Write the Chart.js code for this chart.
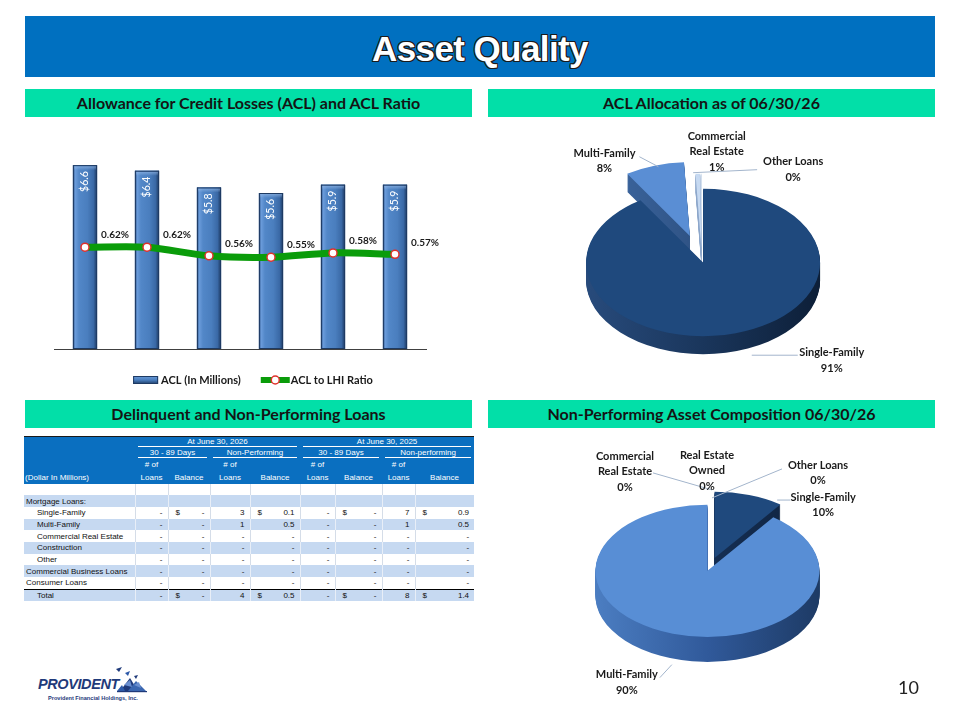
<!DOCTYPE html>
<html>
<head>
<meta charset="utf-8">
<script src="https://cdn.jsdelivr.net/npm/chart.js@4/dist/chart.umd.min.js"></script>
<style>
html,body{margin:0;padding:0;background:#fff;}
body{width:960px;height:720px;position:relative;overflow:hidden;font-family:Lato,'DejaVu Sans',sans-serif;}
.titlebar{position:absolute;left:25px;top:16px;width:910px;height:61px;background:#0070C0;}
.titlebar span{position:absolute;left:0;right:0;top:2px;text-align:center;font:bold 35px 'Liberation Sans',Arial,sans-serif;line-height:61px;color:#fff;letter-spacing:-0.6px;
 text-shadow:-1px -1px 0 #1b1b1b,1px -1px 0 #1b1b1b,-1px 1px 0 #1b1b1b,1px 1px 0 #1b1b1b,0 1px 0 #1b1b1b,0 -1px 0 #1b1b1b,1px 0 0 #1b1b1b,-1px 0 0 #1b1b1b;}
.hdr{position:absolute;height:28px;width:447px;background:#02DFA8;font:bold 16px Lato,sans-serif;line-height:28px;color:#141414;text-align:center;}
canvas{position:absolute;}
#tbl{position:absolute;left:24px;top:436px;width:450px;border-collapse:collapse;table-layout:fixed;font:8px 'Liberation Sans',Arial,sans-serif;color:#111;border-top:1px solid #1a1a1a;}
#tbl td{padding:0;white-space:nowrap;overflow:hidden;}
#tbl tr.h td{background:#0A6FC0;color:#fff;}
#tbl tr.b td{height:11.7px;line-height:11px;}
#tbl tr.b td.v{border-left:1px solid #D5DDE8;}
#tbl tr.alt td{background:#C6D9F1;}
#tbl tr.alt td.v{border-left:1px solid #E8EEF7;}
#tbl tr.tot td{border-top:1px solid #000;}
.ul{border-bottom:1px solid #fff;margin:0 3px;text-align:center;}
.r{text-align:right;padding-right:5px !important;}
.l{text-align:left;padding-left:7px !important;}
.c{text-align:center;}
.logo{position:absolute;left:38px;top:676px;font:italic bold 14.5px 'Liberation Sans',Arial,sans-serif;color:#1F3A7A;letter-spacing:-0.4px;}
.logosub{position:absolute;left:48px;top:695px;font:bold 5.6px 'Liberation Sans',Arial,sans-serif;color:#1F3A7A;}
.pnum{position:absolute;left:898px;top:676px;font:18px Lato,sans-serif;color:#222;}
</style>
</head>
<body>
<div class="titlebar"><span>Asset Quality</span></div>
<div class="hdr" style="left:25px;top:89px;">Allowance for Credit Losses (ACL) and ACL Ratio</div>
<div class="hdr" style="left:488px;top:89px;">ACL Allocation as of 06/30/26</div>
<div class="hdr" style="left:25px;top:400px;">Delinquent and Non-Performing Loans</div>
<div class="hdr" style="left:488px;top:400px;">Non-Performing Asset Composition 06/30/26</div>

<canvas id="bar" width="450" height="270" style="left:24px;top:125px;width:450px;height:270px;"></canvas>
<canvas id="pie1" width="448" height="275" style="left:487px;top:120px;width:448px;height:275px;"></canvas>
<canvas id="pie2" width="448" height="280" style="left:487px;top:430px;width:448px;height:280px;"></canvas>
<table id="tbl"></table>

<svg style="position:absolute;left:108px;top:661px" width="42" height="36" viewBox="0 0 42 36">
  <polygon points="8,8 14,6 11,11" fill="#1F3A7A"/>
  <polygon points="17,12 22,10 20,15" fill="#2E5AA8"/>
  <polygon points="26,15 30,14 28,18" fill="#1F3A7A"/>
  <polygon points="12,30 22,17 30,30" fill="#1F3A7A"/>
  <polygon points="20,30 28,20 38,30" fill="#3A66B0"/>
  <polygon points="16,24 22,19 24,26" fill="#6A8FD0"/>
  <polygon points="26,24 31,21 33,27" fill="#6A8FD0"/>
  <polygon points="9,30 14,24 17,30" fill="#2E5AA8"/>
  <rect x="9" y="30" width="30" height="1.2" fill="#1F3A7A"/>
</svg>
<div class="logo">PROVIDENT</div>
<div class="logosub">Provident Financial Holdings, Inc.</div>
<div class="pnum">10</div>

<script>
// ---------------- DATA ----------------
const quarters = ['03/31/2025','06/30/2025','09/30/2025','12/31/2025','03/31/2026','06/30/2026'];
const aclMillions = [6.6, 6.4, 5.8, 5.6, 5.9, 5.9];
const aclRatioPct = [0.62, 0.62, 0.56, 0.55, 0.58, 0.57];
const barSeriesName = 'ACL (In Millions)';
const lineSeriesName = 'ACL to LHI Ratio';

const aclAllocCats = ['Single-Family','Multi-Family','Commercial Real Estate','Other Loans'];
const aclAllocVals = [91.0, 8.2, 0.6, 0.2];

const npaCats = ['Single-Family','Multi-Family','Commercial Real Estate','Real Estate Owned','Other Loans'];
const npaVals = [10, 90, 0, 0, 0];

const tableRows = ['', 'Mortgage Loans:', 'Single-Family', 'Multi-Family', 'Commercial Real Estate', 'Construction', 'Other', 'Commercial Business Loans', 'Consumer Loans', 'Total'];
const del30Loans2026 = [null, null, 0, 0, 0, 0, 0, 0, 0, 0];
const del30Bal2026   = [null, null, 0, 0, 0, 0, 0, 0, 0, 0];
const npLoans2026    = [null, null, 3, 1, 0, 0, 0, 0, 0, 4];
const npBal2026      = [null, null, 0.1, 0.5, 0, 0, 0, 0, 0, 0.5];
const del30Loans2025 = [null, null, 0, 0, 0, 0, 0, 0, 0, 0];
const del30Bal2025   = [null, null, 0, 0, 0, 0, 0, 0, 0, 0];
const npLoans2025    = [null, null, 7, 1, 0, 0, 0, 0, 0, 8];
const npBal2025      = [null, null, 0.9, 0.5, 0, 0, 0, 0, 0, 1.4];
const dollarSignRows = ['Single-Family', 'Total'];
const indentedRows = ['Single-Family','Multi-Family','Commercial Real Estate','Construction','Other','Total'];

// ---------------- TABLE ----------------
(function buildTable(){
  const widths = [111,33,22,20,40,22,28,35,22,25,33,22,37];
  let h = '<colgroup>' + widths.map(w => '<col style="width:' + w + 'px">').join('') + '</colgroup>';
  h += '<tr class="h" style="height:11px"><td></td><td colspan="6"><div class="ul">At June 30, 2026</div></td><td colspan="6"><div class="ul">At June 30, 2025</div></td></tr>';
  h += '<tr class="h" style="height:11px"><td></td><td colspan="3"><div class="ul">30 - 89 Days</div></td><td colspan="3"><div class="ul">Non-Performing</div></td><td colspan="3"><div class="ul">30 - 89 Days</div></td><td colspan="3"><div class="ul">Non-performing</div></td></tr>';
  h += '<tr class="h" style="height:12px"><td></td><td class="c"># of</td><td colspan="2"></td><td class="c"># of</td><td colspan="2"></td><td class="c"># of</td><td colspan="2"></td><td class="c"># of</td><td colspan="2"></td></tr>';
  h += '<tr class="h" style="height:13px"><td style="padding-left:1px">(Dollar In Millions)</td><td class="c">Loans</td><td colspan="2" class="c">Balance</td><td class="c">Loans</td><td colspan="2" class="c">Balance</td><td class="c">Loans</td><td colspan="2" class="c">Balance</td><td class="c">Loans</td><td colspan="2" class="c">Balance</td></tr>';
  const fmtN = v => v === null ? '' : (v === 0 ? '-' : String(v));
  const fmtB = v => v === null ? '' : (v === 0 ? '-' : v.toFixed(1));
  tableRows.forEach((lab, i) => {
    const cls = ['b'];
    if (i % 2 === 1) cls.push('alt');
    if (lab === 'Total') cls.push('tot');
    const ds = dollarSignRows.includes(lab) ? '$' : '';
    const pad = indentedRows.includes(lab) ? 13 : 2;
    h += '<tr class="' + cls.join(' ') + '"><td style="padding-left:' + pad + 'px">' + lab + '</td>';
    [[del30Loans2026, del30Bal2026], [npLoans2026, npBal2026], [del30Loans2025, del30Bal2025], [npLoans2025, npBal2025]].forEach(([n, b]) => {
      h += '<td class="v r">' + fmtN(n[i]) + '</td>';
      h += '<td class="v l">' + (b[i] === null ? '' : ds) + '</td>';
      h += '<td class="r">' + fmtB(b[i]) + '</td>';
    });
    h += '</tr>';
  });
  document.getElementById('tbl').innerHTML = h;
})();

// ---------------- CHARTS ----------------
Chart.defaults.font.family = "Lato, 'DejaVu Sans', sans-serif";
Chart.defaults.color = '#222';

const barDeco = {
  id: 'barDeco',
  afterDatasetDraw(chart, args) {
    if (args.index !== 0) return;
    const ctx = chart.ctx;
    const vals = chart.data.datasets[0].data;
    args.meta.data.forEach((el, i) => {
      const p = el.getProps(['x','y','base','width'], true);
      const l = p.x - p.width / 2, w = p.width, h = p.base - p.y;
      ctx.save();
      const g = ctx.createLinearGradient(l, 0, l + w, 0);
      g.addColorStop(0, '#2C5288');
      g.addColorStop(0.1, '#6A9BDA');
      g.addColorStop(0.25, '#5287C8');
      g.addColorStop(0.6, '#4A7EBE');
      g.addColorStop(0.85, '#3A69A6');
      g.addColorStop(1, '#1C3860');
      ctx.fillStyle = g;
      ctx.fillRect(l, p.y, w, h);
      const tg = ctx.createLinearGradient(0, p.y, 0, p.y + 5);
      tg.addColorStop(0, 'rgba(150,185,230,0.8)');
      tg.addColorStop(1, 'rgba(150,185,230,0)');
      ctx.fillStyle = tg;
      ctx.fillRect(l + 1, p.y + 1, w - 2, 5);
      ctx.strokeStyle = '#1E3A62';
      ctx.lineWidth = 1;
      ctx.strokeRect(l + 0.5, p.y + 0.5, w - 1, h - 1);
      ctx.translate(p.x, p.y + 6);
      ctx.rotate(-Math.PI / 2);
      ctx.fillStyle = '#fff';
      ctx.font = "10.5px Lato, sans-serif";
      ctx.textAlign = 'right';
      ctx.textBaseline = 'middle';
      ctx.fillText('$' + vals[i].toFixed(1), 0, 0);
      ctx.restore();
    });
  },
  afterDatasetsDraw(chart) {
    const ctx = chart.ctx;
    const meta = chart.getDatasetMeta(1);
    const vals = chart.data.datasets[1].data;
    ctx.save();
    ctx.font = "bold 10px Lato, sans-serif";
    ctx.fillStyle = '#1a1a1a';
    ctx.textAlign = 'left';
    ctx.textBaseline = 'middle';
    meta.data.forEach((pt, i) => {
      ctx.fillText(vals[i].toFixed(2) + '%', pt.x + 16, pt.y - 12);
    });
    ctx.restore();
  },
  afterDraw(chart) {
    const ctx = chart.ctx;
    const ds = chart.data.datasets;
    ctx.save();
    ctx.font = "bold 11px Lato, sans-serif";
    ctx.textBaseline = 'middle';
    const t1 = ctx.measureText(ds[0].label).width;
    const t2 = ctx.measureText(ds[1].label).width;
    const total = 25 + 3 + t1 + 20 + 29 + 1 + t2;
    let x = chart.width / 2 + 4 - total / 2;
    const y = 255;
    const g = ctx.createLinearGradient(0, y - 4, 0, y + 4);
    g.addColorStop(0, '#6A9BD8'); g.addColorStop(0.5, '#4A7EBE'); g.addColorStop(1, '#1F3D66');
    ctx.fillStyle = g;
    ctx.fillRect(x, y - 4, 25, 8);
    ctx.strokeStyle = '#1E3A62'; ctx.lineWidth = 1;
    ctx.strokeRect(x + 0.5, y - 3.5, 24, 7);
    x += 28;
    ctx.fillStyle = '#1a1a1a';
    ctx.fillText(ds[0].label, x, y);
    x += t1 + 20;
    ctx.strokeStyle = ds[1].borderColor; ctx.lineWidth = 6;
    ctx.beginPath(); ctx.moveTo(x, y); ctx.lineTo(x + 29, y); ctx.stroke();
    ctx.beginPath(); ctx.arc(x + 14.5, y, 4, 0, Math.PI * 2);
    ctx.fillStyle = '#fff'; ctx.fill();
    ctx.strokeStyle = ds[1].pointBorderColor; ctx.lineWidth = 1.5; ctx.stroke();
    x += 30;
    ctx.fillStyle = '#1a1a1a';
    ctx.fillText(ds[1].label, x, y);
    ctx.restore();
  }
};

new Chart(document.getElementById('bar'), {
  data: {
    labels: quarters,
    datasets: [
      { type: 'bar', label: barSeriesName, data: aclMillions, yAxisID: 'y', order: 1,
        backgroundColor: '#4A7EBB', borderWidth: 0, barPercentage: 0.39, categoryPercentage: 1 },
      { type: 'line', label: lineSeriesName, data: aclRatioPct, yAxisID: 'y1', order: 0,
        borderColor: '#0A9C0A', borderWidth: 7, tension: 0.3, fill: false,
        pointRadius: 4, pointBackgroundColor: '#ffffff', pointBorderColor: '#E0302B', pointBorderWidth: 1.5 }
    ]
  },
  options: {
    responsive: false, animation: false, events: [],
    layout: { padding: { left: 30, right: 48, top: 29, bottom: 32 } },
    plugins: { legend: { display: false }, tooltip: { enabled: false } },
    scales: {
      x: { grid: { display: false }, border: { display: true, color: '#404040', width: 1 },
           ticks: { color: '#222', font: { size: 10, weight: 'bold' }, padding: 8, maxRotation: 0, autoSkip: false },
           afterFit: (s) => { s.height = 14; } },
      y: { display: false, min: 0, max: 7 },
      y1: { display: false, min: -0.09, max: 1.27, position: 'right' }
    }
  },
  plugins: [barDeco]
});

function wrapLabel(s) {
  if (s.length <= 12 || s.indexOf(' ') < 0) return [s];
  const words = s.split(' ');
  let best = null;
  for (let k = 1; k < words.length; k++) {
    const a = words.slice(0, k).join(' '), b = words.slice(k).join(' ');
    const m = Math.max(a.length, b.length);
    if (!best || m < best.m) best = { m, lines: [a, b] };
  }
  return best.lines;
}

const pie3d = {
  id: 'pie3d',
  beforeDatasetsDraw(chart, args, o) {
    const ctx = chart.ctx;
    const arcs = chart.getDatasetMeta(0).data;
    if (!arcs.length) return;
    const cx = arcs[0].x, cy = arcs[0].y, R = arcs[0].outerRadius;
    const geo = arcs.map((el, i) => {
      const p = el.getProps(['startAngle','endAngle','outerRadius'], true);
      const mid = (p.startAngle + p.endAngle) / 2;
      return { el, s: p.startAngle, e: p.endAngle, r: p.outerRadius,
               dx: Math.cos(mid) * o.explode[i], dy: Math.sin(mid) * o.explode[i] };
    });
    const tilt = (d) => { ctx.translate(0, cy + d); ctx.scale(1, o.tilt); ctx.translate(0, -cy); };
    for (let d = o.depth; d >= 1; d--) {
      geo.forEach((g, i) => {
        if (g.e - g.s <= 0.0001) return;
        ctx.save(); tilt(d);
        const c = o.side[i];
        const gr = ctx.createLinearGradient(cx - R, 0, cx + R, 0);
        gr.addColorStop(0, c[0]); gr.addColorStop(0.5, c[1]); gr.addColorStop(1, c[2]);
        ctx.fillStyle = gr;
        ctx.beginPath();
        ctx.moveTo(cx + g.dx, cy + g.dy);
        ctx.arc(cx + g.dx, cy + g.dy, g.r, g.s, g.e);
        ctx.closePath();
        ctx.fill();
        ctx.restore();
      });
    }
    geo.forEach(g => {
      if (g.e - g.s <= 0.0001) return;
      ctx.save(); tilt(0); ctx.translate(g.dx, g.dy); g.el.draw(ctx); ctx.restore();
    });
    return false;
  },
  afterDraw(chart, args, o) {
    const ctx = chart.ctx;
    const arcs = chart.getDatasetMeta(0).data;
    const vals = chart.data.datasets[0].data;
    const labels = chart.data.labels;
    const total = vals.reduce((a, b) => a + b, 0);
    const cx = arcs[0].x, cy = arcs[0].y;
    ctx.save();
    ctx.font = "bold 11px Lato, sans-serif";
    ctx.textAlign = 'center';
    ctx.textBaseline = 'middle';
    arcs.forEach((el, i) => {
      const p = el.getProps(['startAngle','endAngle','outerRadius'], true);
      const mid = (p.startAngle + p.endAngle) / 2;
      const rr = p.outerRadius + o.explode[i];
      const sx = cx + Math.cos(mid) * rr;
      const sy = cy + Math.sin(mid) * rr * o.tilt;
      const L = o.leaders[i];
      if (L) {
        ctx.strokeStyle = '#A3B5CC'; ctx.lineWidth = 1;
        ctx.beginPath(); ctx.moveTo(sx + L[0], sy + L[1]); ctx.lineTo(sx + L[2], sy + L[3]); ctx.stroke();
      }
      const lines = wrapLabel(labels[i]).concat([Math.round(vals[i] / total * 100) + '%']);
      const off = o.labelOffset[i];
      const lx = sx + off[0], ly = sy + off[1];
      const lh = 15.5;
      const y0 = ly - (lines.length - 1) * lh / 2;
      ctx.fillStyle = '#1a1a1a';
      lines.forEach((t, j) => ctx.fillText(t, lx, y0 + j * lh));
    });
    ctx.restore();
  }
};

new Chart(document.getElementById('pie1'), {
  type: 'pie',
  data: {
    labels: aclAllocCats,
    datasets: [{ data: aclAllocVals, radius: 117, borderWidth: 0,
      backgroundColor: ['#1F497D', '#5A8ED4', '#C6D9F1', '#DCE6F2'] }]
  },
  options: {
    responsive: false, animation: false, events: [],
    layout: { padding: { left: 0, right: 18, top: 5, bottom: 0 } },
    plugins: {
      legend: { display: false }, tooltip: { enabled: false },
      pie3d: {
        tilt: 0.63, depth: 18,
        explode: [4, 40, 20, 20],
        side: [['#284B7C','#1A365C','#0D1F38'], ['#3F6BA6','#2E5182','#213D63'], ['#A3BADA','#8CA6CA','#7893B8'], ['#B5C7E0','#9DB3D2','#8AA2C4']],
        labelOffset: [[96, 27], [-50, -5], [19, -22], [92, -4]],
        leaders: [[16, 22, 62, 22], [-15, -9, 4, 1], null, [-8, -1, 56, -4]]
      }
    }
  },
  plugins: [pie3d]
});

new Chart(document.getElementById('pie2'), {
  type: 'pie',
  data: {
    labels: npaCats,
    datasets: [{ data: npaVals, radius: 112, borderWidth: 0,
      backgroundColor: ['#1F497D', '#588ED5', '#C6D9F1', '#DCE6F2', '#8EB4E3'] }]
  },
  options: {
    responsive: false, animation: false, events: [],
    layout: { padding: { left: 0, right: 4, top: 0, bottom: 4 } },
    plugins: {
      legend: { display: false }, tooltip: { enabled: false },
      pie3d: {
        tilt: 0.59, depth: 25,
        explode: [18, 5, 0, 0, 0],
        side: [['#1E3E6C','#152F54','#0E213C'], ['#4B7DC1','#30599A','#1D3A64'], ['#A3BADA','#8CA6CA','#7893B8'], ['#A3BADA','#8CA6CA','#7893B8'], ['#6F93C8','#5A7DB2','#46679A']],
        labelOffset: [[74, 10], [-46, 49], [-84, -30], [-2, -31], [109, -29]],
        leaders: [[28, 5, 41, 5], [-13, 44, -1, 31], [-56, -29, 3, -12], null, [73, -33, 3, -4]]
      }
    }
  },
  plugins: [pie3d]
});
</script>
</body>
</html>
